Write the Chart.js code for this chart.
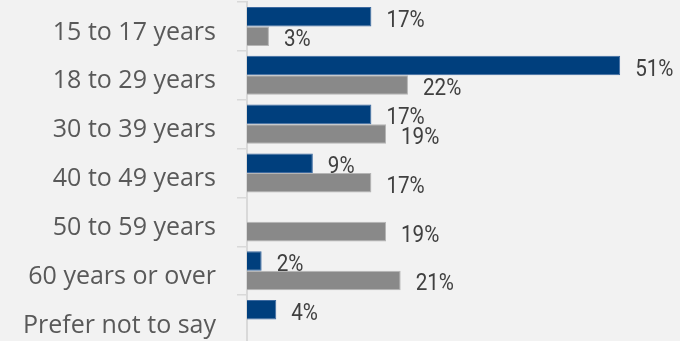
<!DOCTYPE html>
<html>
<head>
<meta charset="utf-8">
<script src="https://cdn.jsdelivr.net/npm/chart.js@4.4.1/dist/chart.umd.min.js"></script>
<style>
  html, body { margin: 0; padding: 0; background: #f2f2f2; overflow: hidden; }
  #wrap { position: relative; width: 686px; height: 345px; }
</style>
</head>
<body>
<div id="wrap"><canvas id="c"></canvas></div>
<script>
const categories = ['15 to 17 years', '18 to 29 years', '30 to 39 years', '40 to 49 years', '50 to 59 years', '60 years or over', 'Prefer not to say'];
const seriesBlue = [17, 51, 17, 9, null, 2, 4];
const seriesGray = [3, 22, 19, 17, 19, 21, null];
const seriesNames = ['Respondents', 'Comparison'];
const xMax = 60;

const valueLabels = {
  id: 'valueLabels',
  afterDatasetsDraw(chart) {
    const ctx = chart.ctx;
    chart.data.datasets.forEach((ds, i) => {
      const meta = chart.getDatasetMeta(i);
      meta.data.forEach((bar, j) => {
        const v = ds.data[j];
        if (v === null || v === undefined) return;
        ctx.save();
        ctx.font = '400 24px Roboto, "Open Sans", sans-serif';
        ctx.fillStyle = '#404040';
        ctx.textAlign = 'left';
        ctx.textBaseline = 'middle';
        ctx.translate(bar.x + 15, bar.y + 4);
        ctx.scale(0.86, 1);
        ctx.fillText(v + '%', 0, 0);
        ctx.restore();
      });
    });
  }
};

new Chart(document.getElementById('c'), {
  type: 'bar',
  data: {
    labels: categories,
    datasets: [
      { label: seriesNames[0], data: seriesBlue, backgroundColor: '#003f7d', borderColor: '#3d6aa0', borderWidth: 1, categoryPercentage: 0.8, barPercentage: 1.0 },
      { label: seriesNames[1], data: seriesGray, backgroundColor: '#898989', borderColor: '#b5b5b5', borderWidth: 1, categoryPercentage: 0.8, barPercentage: 1.0 }
    ]
  },
  options: {
    indexAxis: 'y',
    responsive: true,
    maintainAspectRatio: false,
    animation: false,
    layout: { padding: { top: 2, bottom: 1, left: 0, right: 0 } },
    plugins: { legend: { display: false }, tooltip: { enabled: false } },
    scales: {
      x: { type: 'linear', min: 0, max: xMax, display: false },
      y: {
        afterFit(scale) { scale.width = 247; scale.paddingTop = 0; scale.paddingBottom = 0; },
        grid: { display: true, drawOnChartArea: false, drawTicks: true, tickLength: 10, color: '#d9d9d9', lineWidth: 1.5, offset: true },
        border: { display: true, color: '#d9d9d9', width: 2 },
        ticks: {
          color: '#595959',
          padding: 21,
          labelOffset: 6,
          font: { family: '"Open Sans", sans-serif', size: 25 }
        }
      }
    }
  },
  plugins: [valueLabels]
});
</script>
</body>
</html>
